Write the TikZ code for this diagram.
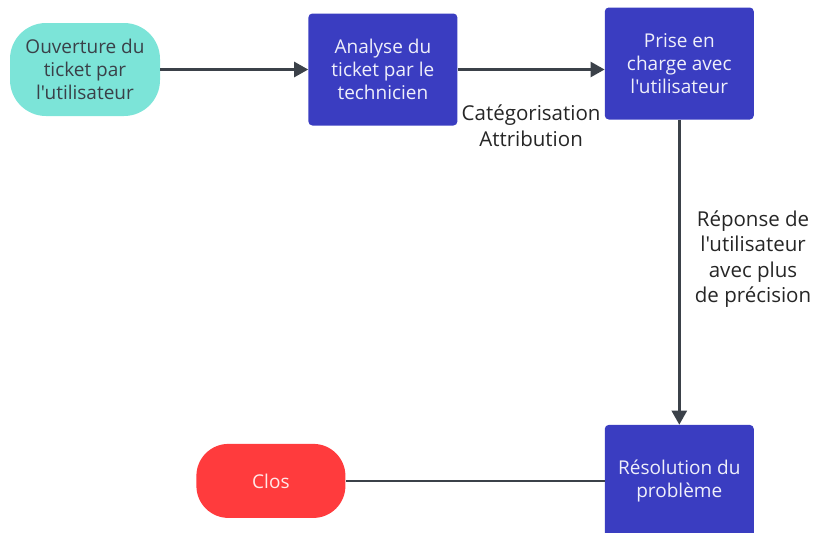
\documentclass[tikz,border=0pt]{standalone}
\usepackage{fontspec}
\setmainfont{Open Sans}[Ligatures=TeXOff]
\usetikzlibrary{arrows.meta,positioning}
\definecolor{tealstart}{HTML}{7CE4D8}
\definecolor{indigostep}{HTML}{3A3DC1}
\definecolor{redend}{HTML}{FF3B3D}
\definecolor{flowgray}{HTML}{3B4149}
\definecolor{darktext}{HTML}{3A4048}
\tikzset{
  startbox/.style={
    fill=tealstart,
    rectangle,
    rounded corners=36pt,
    minimum height=93pt,
    minimum width=150pt,
    align=center,
    text=darktext,
  },
  stepbox/.style={
    fill=indigostep,
    rectangle,
    rounded corners=4pt,
    minimum height=112pt,
    minimum width=149pt,
    align=center,
    text=white!92!indigostep,
  },
  endbox/.style={
    fill=redend,
    rectangle,
    rounded corners=32pt,
    minimum height=74pt,
    minimum width=149pt,
    align=center,
    text=white!88!redend,
  },
  flow/.style={
    draw=flowgray,
    line width=2.5pt,
    -{Triangle[length=14pt,width=15pt]}
  },
  flowlabel/.style={
    align=center,
    text=black!85,
    font=\fontsize{20.5}{25.5}\selectfont,
  }
}

\begin{document}
\begin{tikzpicture}[x=1pt, y=-1pt, node distance=148pt,
  every node/.style={font=\fontsize{19}{23}\selectfont}]

    \useasboundingbox (0,0) rectangle (817,533);

    \node [startbox] (ouverture) at (85,69.5) {Ouverture du\\ticket par\\l'utilisateur};

    \node [stepbox, right=148pt of ouverture] (analyse) {Analyse du\\ticket par le\\technicien};

    \node [stepbox, right=147pt of analyse, yshift=6pt] (prise) {Prise en\\charge avec\\l'utilisateur};

    \node [stepbox, below=305pt of prise] (resolution) {Résolution du\\problème};

    \node [endbox, left=259pt of resolution] (clos) {Clos};

    \draw [flow] (ouverture) -- (analyse);
    \draw [flow] (analyse) -- node [flowlabel, below=31pt] (categorie) {Catégorisation\\Attribution} (prise.west |- analyse);
    \draw [flow] (prise) -- node [flowlabel, right=11pt, yshift=13pt] (reponse) {Réponse de\\l'utilisateur\\avec plus\\de précision} (resolution);
    \draw [draw=flowgray, line width=2.5pt] (resolution) -- (clos);
  \end{tikzpicture}
\end{document}
